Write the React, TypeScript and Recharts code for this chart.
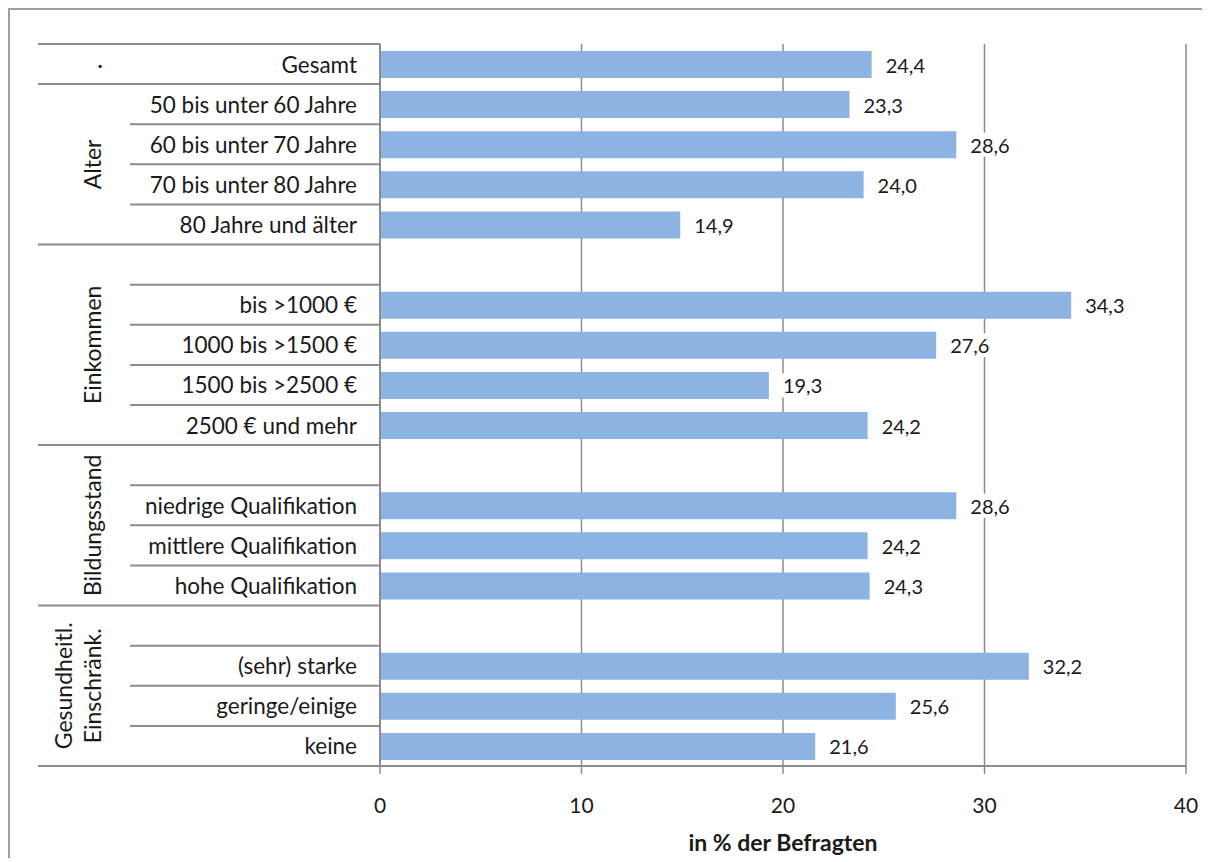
import React from 'react';
import { BarChart, Bar, XAxis, YAxis, CartesianGrid, LabelList, Label } from 'recharts';

// rows, top to bottom; empty strings are the spacer rows in front of each group
const categories = [
  'Gesamt',
  '50 bis unter 60 Jahre', '60 bis unter 70 Jahre', '70 bis unter 80 Jahre', '80 Jahre und älter',
  '', 'bis >1000 €', '1000 bis >1500 €', '1500 bis >2500 €', '2500 € und mehr',
  '', 'niedrige Qualifikation', 'mittlere Qualifikation', 'hohe Qualifikation',
  '', '(sehr) starke', 'geringe/einige', 'keine',
];
const values: (number | null)[] = [
  24.4,
  23.3, 28.6, 24.0, 14.9,
  null, 34.3, 27.6, 19.3, 24.2,
  null, 28.6, 24.2, 24.3,
  null, 32.2, 25.6, 21.6,
];
// group label, first row index, number of rows
const groups: { label: string[]; start: number; size: number; rotate: boolean }[] = [
  { label: ['·'], start: 0, size: 1, rotate: false },
  { label: ['Alter'], start: 1, size: 4, rotate: true },
  { label: ['Einkommen'], start: 5, size: 5, rotate: true },
  { label: ['Bildungsstand'], start: 10, size: 4, rotate: true },
  { label: ['Gesundheitl.', 'Einschränk.'], start: 14, size: 4, rotate: true },
];
const xTicks = [0, 10, 20, 30, 40];

const data = categories.map((c, i) => ({ id: `r${i}`, name: c, v: values[i] }));

const FONT = 'Lato, "Open Sans", sans-serif';
const GRID = '#8c8c8c';
const INK = '#1a1a1a';
const W = 1194;
const H = 850;
const MARGIN = { top: 36, right: 16, bottom: 7, left: 30 };
const Y_AXIS_W = 342;
const X_AXIS_H = 85;
const ROW_H = (H - MARGIN.top - MARGIN.bottom - X_AXIS_H) / categories.length;

const CategoryTick = (props: any) => {
  const { y, index } = props;
  const axisX = MARGIN.left + Y_AXIS_W;
  const top = y - ROW_H / 2;
  const group = groups.find(g => g.start === index);
  const isLast = index === categories.length - 1;
  const els: React.ReactNode[] = [];
  els.push(
    <line key="sep" x1={group ? MARGIN.left : 122} x2={axisX} y1={top} y2={top} stroke={GRID} strokeWidth={2} />
  );
  if (isLast) {
    els.push(
      <line key="end" x1={MARGIN.left} x2={axisX} y1={top + ROW_H} y2={top + ROW_H} stroke={GRID} strokeWidth={2} />
    );
  }
  if (categories[index]) {
    els.push(
      <text key="t" x={axisX - 23} y={y} textAnchor="end" dominantBaseline="central"
        fontFamily={FONT} fontSize={22.5} fill={INK}>{categories[index]}</text>
    );
  }
  if (group) {
    const cy = top + (group.size * ROW_H) / 2;
    const cx = 84;
    if (group.rotate) {
      const n = group.label.length;
      group.label.forEach((l, k) => {
        const lx = cx - (n - 1 - k) * 29;
        els.push(
          <text key={`g${k}`} x={lx} y={cy} textAnchor="middle" dominantBaseline="central"
            transform={`rotate(-90 ${lx} ${cy})`} fontFamily={FONT} fontSize={23} fill={INK}>{l}</text>
        );
      });
    } else {
      els.push(
        <text key="g" x={cx + 8} y={cy} textAnchor="middle" dominantBaseline="central"
          fontFamily={FONT} fontSize={22} fill={INK}>{group.label[0]}</text>
      );
    }
  }
  return <g>{els}</g>;
};

const ValueLabel = (props: any) => {
  const { x, y, width, height, value } = props;
  if (value == null) return null;
  const txt = Number(value).toFixed(1).replace('.', ',');
  const tx = x + width + 14;
  const cy = y + height / 2;
  return (
    <g>
      <rect x={tx - 3} y={cy - 12} width={txt.length * 11 + 6} height={24} fill="#fff" />
      <text x={tx} y={cy} dominantBaseline="central" fontFamily={FONT} fontSize={20} fill={INK}>{txt}</text>
    </g>
  );
};

export default function App() {
  return (
    <div style={{ position: 'relative', width: W, height: H }}>
      <div style={{ position: 'absolute', left: 0, top: 0, width: W + 20, height: H + 20, borderTop: '2px solid #a0a0a0', borderLeft: '2px solid #a0a0a0' }} />
      <BarChart width={W} height={H} data={data} layout="vertical" margin={MARGIN}>
        <CartesianGrid horizontal={false} vertical stroke={GRID} strokeWidth={1.5} />
        <XAxis
          type="number"
          domain={[0, 40]}
          ticks={xTicks}
          height={X_AXIS_H}
          axisLine={{ stroke: GRID, strokeWidth: 2 }}
          tickLine={{ stroke: GRID, strokeWidth: 1.5 }}
          tickSize={8}
          tickMargin={24}
          tick={{ fontFamily: FONT, fontSize: 21, fill: INK }}
        >
          <Label value="in % der Befragten" position="insideBottom" offset={0}
            style={{ fontFamily: FONT, fontSize: 23, fontWeight: 'bold', fill: INK }} />
        </XAxis>
        <YAxis
          type="category"
          dataKey="id"
          width={Y_AXIS_W}
          interval={0}
          axisLine={{ stroke: GRID, strokeWidth: 2 }}
          tickLine={false}
          tick={<CategoryTick />}
        />
        <Bar dataKey="v" fill="#8db3e2" barSize={27} isAnimationActive={false}>
          <LabelList dataKey="v" content={<ValueLabel />} />
        </Bar>
      </BarChart>
    </div>
  );
}
